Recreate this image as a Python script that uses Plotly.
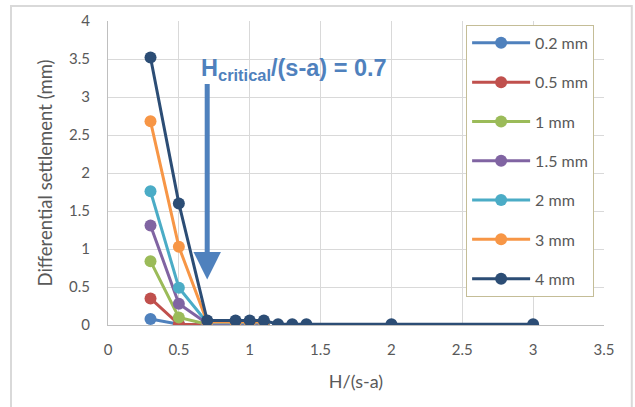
import plotly.graph_objects as go

x_full = [0.3, 0.5, 0.7, 0.9, 1.0, 1.1, 1.2, 1.3, 1.4, 2.0, 3.0]
x_short = [0.3, 0.5, 0.7, 0.9, 1.0, 1.1]

names = ["0.2 mm", "0.5 mm", "1 mm", "1.5 mm", "2 mm", "3 mm", "4 mm"]
colors = ["#4F81BD", "#C0504D", "#9BBB59", "#8064A2", "#4BACC6", "#F79646", "#2C4D75"]

s_02 = [0.08, 0.01, 0.00, 0.00, 0.00, 0.00]
s_05 = [0.35, 0.01, 0.00, 0.00, 0.00, 0.00]
s_1 = [0.84, 0.10, 0.01, 0.01, 0.01, 0.01]
s_15 = [1.31, 0.28, 0.02, 0.02, 0.02, 0.02]
s_2 = [1.76, 0.49, 0.03, 0.03, 0.03, 0.03]
s_3 = [2.68, 1.03, 0.04, 0.04, 0.04, 0.04]
s_4 = [3.52, 1.60, 0.06, 0.06, 0.06, 0.06, 0.01, 0.01, 0.01, 0.01, 0.01]

series = [s_02, s_05, s_1, s_15, s_2, s_3, s_4]

fig = go.Figure()
for name, col, ys in zip(names, colors, series):
    xs = x_full if len(ys) == len(x_full) else x_short
    fig.add_trace(go.Scatter(
        x=xs, y=ys, name=name, mode="lines+markers", legendgroup=name,
        line=dict(color=col, width=3),
        marker=dict(color=col, size=12),
    ))

font_fam = "Lato, Open Sans, sans-serif"
grey = "#595959"

fig.update_layout(
    width=635, height=407,
    margin=dict(l=108, r=31, t=21, b=82),
    paper_bgcolor="white", plot_bgcolor="white",
    font=dict(family=font_fam, size=15, color=grey),
    showlegend=True,
    legend=dict(
        x=0.722, y=0.987, xanchor="left", yanchor="top",
        bordercolor="#C4BD97", borderwidth=1, bgcolor="white",
        font=dict(size=16, color=grey), tracegroupgap=15.5, itemwidth=58,
    ),
    xaxis=dict(
        range=[0, 3.5], dtick=0.5, tickformat="~g",
        showgrid=True, gridcolor="#D9D9D9", gridwidth=1,
        showline=True, linecolor="#BFBFBF", linewidth=1,
        zeroline=False, ticks="", ticklabelstandoff=11,
        title=dict(text="H/(s-a)", font=dict(size=18, color=grey), standoff=18),
        tickfont=dict(size=15, color=grey),
    ),
    yaxis=dict(
        range=[0, 4], dtick=0.5, tickformat="~g",
        showgrid=True, gridcolor="#D9D9D9", gridwidth=1,
        showline=True, linecolor="#BFBFBF", linewidth=1,
        zeroline=False, ticks="", ticklabelstandoff=14,
        title=dict(text="Differential settlement (mm)", font=dict(size=18.5, color=grey), standoff=11),
        tickfont=dict(size=15, color=grey),
    ),
)

# outer chart border
fig.add_shape(type="rect", xref="paper", yref="paper",
              x0=-0.1956, x1=1.056, y0=-0.3, y1=1.049,
              line=dict(color="#D9D9D9", width=2), layer="below")

# arrow
fig.add_annotation(x=0.7, y=0.6, ax=0.7, ay=3.19, axref="x", ayref="y",
                   xref="x", yref="y", text="", showarrow=True,
                   arrowhead=2, arrowsize=1.1, arrowwidth=5, arrowcolor="#4F81BD")

fig.add_annotation(x=0.645, y=3.15, xref="x", yref="y", xanchor="left", yanchor="bottom",
                   text="<b>H<sub>critical</sub>/(s-a) = 0.7</b>", showarrow=False,
                   font=dict(size=23.5, color="#4F81BD", family="Liberation Sans, Arial, sans-serif"))

fig.write_html("out.html")
